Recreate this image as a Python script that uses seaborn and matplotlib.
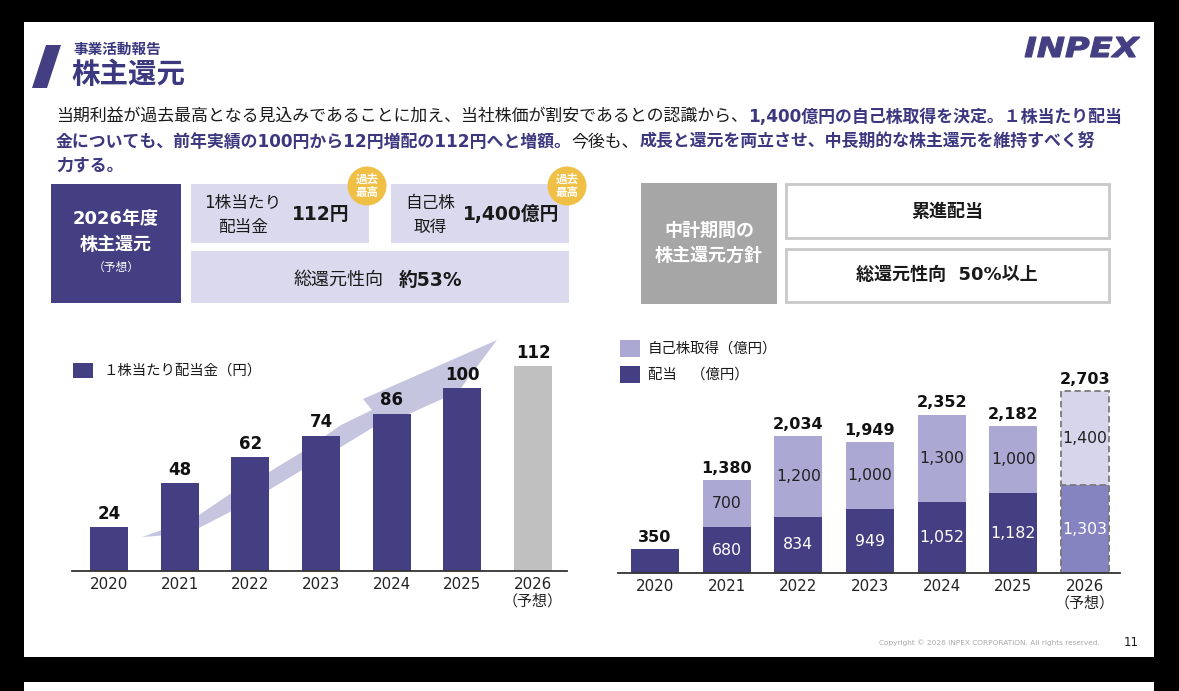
import numpy as np
import pandas as pd
import matplotlib
matplotlib.use("Agg")
import matplotlib.pyplot as plt
import seaborn as sns
from matplotlib.patches import Rectangle, Polygon, Circle, PathPatch
from matplotlib.textpath import TextPath
from matplotlib.font_manager import FontProperties
from matplotlib.transforms import Affine2D

# ---------------- data ----------------
years = ["2020", "2021", "2022", "2023", "2024", "2025", "2026"]
year_labels = ["2020", "2021", "2022", "2023", "2024", "2025", "2026\n（予想）"]
dps = [24, 48, 62, 74, 86, 100, 112]                      # 1株当たり配当金（円）
dividend = [350, 680, 834, 949, 1052, 1182, 1303]         # 配当（億円）
buyback = [0, 700, 1200, 1000, 1300, 1000, 1400]          # 自己株取得（億円）
total_return = [350, 1380, 2034, 1949, 2352, 2182, 2703]  # 合計（億円）

# ---------------- style ----------------
sns.set_theme(style="white")
JP = ['Noto Sans CJK JP', 'DejaVu Sans']
LAT = ['DejaVu Sans', 'Noto Sans CJK JP']
plt.rcParams['font.family'] = LAT

NAVY = '#443f82'
NAVY_T = '#3c3880'
LAV = '#dbd9ee'
LIGHT = '#aba8d4'
PALE = '#d7d5eb'
MED = '#8683c1'
GREY26 = '#c0c0c0'
ORANGE = '#f0bf45'
ARROW = '#c6c5e0'
TXT = '#1a1a1a'

W, H = 1179, 691
fig = plt.figure(figsize=(W / 100, H / 100), dpi=100)
fig.patch.set_facecolor('black')
bg = fig.add_axes([0, 0, 1, 1], zorder=0)
bg.set_xlim(0, W)
bg.set_ylim(H, 0)
bg.axis('off')

# slide backgrounds
bg.add_patch(Rectangle((24, 22), 1130, 635, color='white', lw=0))
bg.add_patch(Rectangle((24, 682), 1130, 12, color='white', lw=0))

# header
bg.add_patch(Polygon([(32, 88), (47, 88), (61, 45), (46, 45)], closed=True, color=NAVY, lw=0))
bg.text(73, 49, "事業活動報告", fontsize=10.5, fontweight='bold', color=NAVY_T, va='center', ha='left', family=JP)
bg.text(71, 75, "株主還元", fontsize=20.5, fontweight='bold', color=NAVY_T, va='center', ha='left', family=JP)

# INPEX logo
fp = FontProperties(family='DejaVu Sans', weight='bold', style='oblique')
tp = TextPath((0, 0), "INPEX", size=100, prop=fp)
ext = tp.get_extents()
sx = (1140 - 1025) / ext.width
sy = (57 - 37) / ext.height
tr = Affine2D().translate(-ext.x0, -ext.y0).scale(sx, -sy).translate(1025, 57) + bg.transData
bg.add_patch(PathPatch(tp, transform=tr, facecolor=NAVY, edgecolor=NAVY, lw=0.8))

renderer = fig.canvas.get_renderer()


def rich_line(x, y, segments, size):
    for s, bold, col in segments:
        t = bg.text(x, y, s, fontsize=size, fontweight='bold' if bold else 'normal',
                    color=col, va='center', ha='left', family=LAT)
        bb = t.get_window_extent(renderer=renderer)
        x = bb.x1
    return x


PS = 12.2
rich_line(56, 117, [("当期利益が過去最高となる見込みであることに加え、当社株価が割安であるとの認識から、", False, TXT),
                    ("1,400億円の自己株取得を決定。１株当たり配当", True, NAVY_T)], PS)
rich_line(56, 142, [("金についても、前年実績の100円から12円増配の112円へと増額。", True, NAVY_T),
                    ("今後も、", False, TXT),
                    ("成長と還元を両立させ、中長期的な株主還元を維持すべく努", True, NAVY_T)], PS)
rich_line(56, 165, [("力する。", True, NAVY_T)], PS)

# left info boxes
bg.add_patch(Rectangle((51, 184), 130, 119, color=NAVY, lw=0))
bg.text(116, 219, "2026年度", fontsize=13, fontweight='bold', color='white', ha='center', va='center')
bg.text(116, 244, "株主還元", fontsize=13, fontweight='bold', color='white', ha='center', va='center', family=JP)
bg.text(116, 267, "（予想）", fontsize=8.5, color='white', ha='center', va='center', family=JP)

bg.add_patch(Rectangle((191, 184), 178, 59, color=LAV, lw=0))
bg.add_patch(Rectangle((391, 184), 178, 59, color=LAV, lw=0))
bg.add_patch(Rectangle((191, 251), 378, 52, color=LAV, lw=0))
bg.text(243, 203, "1株当たり", fontsize=12, color=TXT, ha='center', va='center')
bg.text(243, 227, "配当金", fontsize=12, color=TXT, ha='center', va='center', family=JP)
bg.text(321, 214, "112円", fontsize=13.5, fontweight='bold', color=TXT, ha='center', va='center')
bg.text(430, 203, "自己株", fontsize=12, color=TXT, ha='center', va='center', family=JP)
bg.text(430, 227, "取得", fontsize=12, color=TXT, ha='center', va='center', family=JP)
bg.text(511, 214, "1,400億円", fontsize=13.5, fontweight='bold', color=TXT, ha='center', va='center')
bg.text(384, 280, "総還元性向", fontsize=13, color=TXT, ha='right', va='center', family=JP)
bg.text(399, 280, "約53%", fontsize=13.5, fontweight='bold', color=TXT, ha='left', va='center')

for cx in (367, 567):
    bg.add_patch(Circle((cx, 186), 19.5, color=ORANGE, lw=0))
    bg.text(cx, 186, "過去\n最高", fontsize=8.3, fontweight='bold', color='white', ha='center', va='center',
            linespacing=1.05, family=JP)

# right policy boxes
bg.add_patch(Rectangle((641, 183), 136, 121, color='#a6a6a6', lw=0))
bg.text(709, 243, "中計期間の\n株主還元方針", fontsize=13, fontweight='bold', color='white', ha='center',
        va='center', linespacing=1.35, family=JP)
bg.add_patch(Rectangle((786, 184), 323, 54, facecolor='white', edgecolor='#c9c9c9', lw=2))
bg.add_patch(Rectangle((786, 249), 323, 53, facecolor='white', edgecolor='#c9c9c9', lw=2))
bg.text(947, 211, "累進配当", fontsize=13, fontweight='bold', color=TXT, ha='center', va='center', family=JP)
bg.text(947, 275, "総還元性向  50%以上", fontsize=13, fontweight='bold', color=TXT, ha='center', va='center')

# curved arrow behind the left chart
upper = [(142, 537), (170, 527), (199, 515), (230, 494), (269, 472), (302, 452), (341, 425), (372, 410)]
head = [(363, 399), (497, 340), (458, 392), (440, 400)]
lower = [(411, 413), (372, 428), (341, 447), (302, 470), (269, 490), (230, 512), (199, 528), (170, 535)]
bg.add_patch(Polygon(upper + head + lower, closed=True, color=ARROW, lw=0))

# legends
bg.add_patch(Rectangle((73, 363), 20, 15, color=NAVY, lw=0))
bg.text(103, 371, "１株当たり配当金（円）", fontsize=10.4, color=TXT, ha='left', va='center', family=JP)
bg.add_patch(Rectangle((620, 340), 20, 17, color=LIGHT, lw=0))
bg.text(648, 349, "自己株取得（億円）", fontsize=10.4, color=TXT, ha='left', va='center', family=JP)
bg.add_patch(Rectangle((620, 366), 20, 17, color=NAVY, lw=0))
bg.text(648, 375, "配当　（億円）", fontsize=10.4, color=TXT, ha='left', va='center', family=JP)

# footer
bg.text(1100, 643, "Copyright © 2026 INPEX CORPORATION. All rights reserved.", fontsize=5.3, color='#a8a8a8',
        ha='right', va='center')
bg.text(1131, 643, "11", fontsize=8.5, color=TXT, ha='center', va='center')


def px_axes(x0, x1, ytop, ybot):
    return fig.add_axes([x0 / W, (H - ybot) / H, (x1 - x0) / W, (ybot - ytop) / H], zorder=2)


def style_axes(ax, xl, yl):
    ax.patch.set_alpha(0)
    ax.set_xlim(*xl)
    ax.set_ylim(*yl)
    for s in ('top', 'right', 'left'):
        ax.spines[s].set_visible(False)
    ax.spines['bottom'].set_color('#333333')
    ax.spines['bottom'].set_linewidth(1.3)
    ax.set_yticks([])
    ax.set_xlabel('')
    ax.set_ylabel('')
    ax.set_xticks(range(len(years)))
    ax.set_xticklabels(year_labels, fontsize=10.8, color='#222222', linespacing=1.15)
    ax.tick_params(axis='x', length=0, pad=4)
    ax.grid(False)


# ---------------- left chart: DPS ----------------
axL = px_axes(72, 567, 333, 571)
sns.barplot(x=years, y=dps, hue=years, palette=[NAVY] * 6 + [GREY26], width=0.54,
            saturation=1, legend=False, linewidth=0, ax=axL)
style_axes(axL, (-0.524, 6.48), (0, 130))
for c in axL.containers:
    axL.bar_label(c, padding=3, fontsize=12, fontweight='bold', color='#111111')

# ---------------- right chart: total return ----------------
axR = px_axes(618, 1120, 371, 573)
sns.barplot(x=years, y=total_return, hue=years, palette=[LIGHT] * 6 + [PALE], width=0.67,
            saturation=1, legend=False, linewidth=0, ax=axR)
sns.barplot(x=years, y=dividend, hue=years, palette=[NAVY] * 6 + [MED], width=0.67,
            saturation=1, legend=False, linewidth=0, ax=axR)
style_axes(axR, (-0.516, 6.49), (0, 3000))
n = len(years)
for p in (axR.patches[n - 1], axR.patches[2 * n - 1]):
    p.set_edgecolor('#7a7a7a')
    p.set_linestyle((0, (3.5, 2)))
    p.set_linewidth(1.3)

for i in range(n):
    if buyback[i] > 0:
        axR.text(i, dividend[i] / 2, f"{dividend[i]:,}", ha='center', va='center', fontsize=11.3,
                 color='white')
        axR.text(i, dividend[i] + buyback[i] / 2, f"{buyback[i]:,}", ha='center', va='center',
                 fontsize=11.3, color='#222222')
    axR.annotate(f"{total_return[i]:,}", (i, total_return[i]), xytext=(0, 3), textcoords='offset points',
                 ha='center', va='bottom', fontsize=11.5, fontweight='bold', color='#111111',
                 annotation_clip=False)

fig.savefig("out.png", dpi=100, facecolor=fig.get_facecolor())
